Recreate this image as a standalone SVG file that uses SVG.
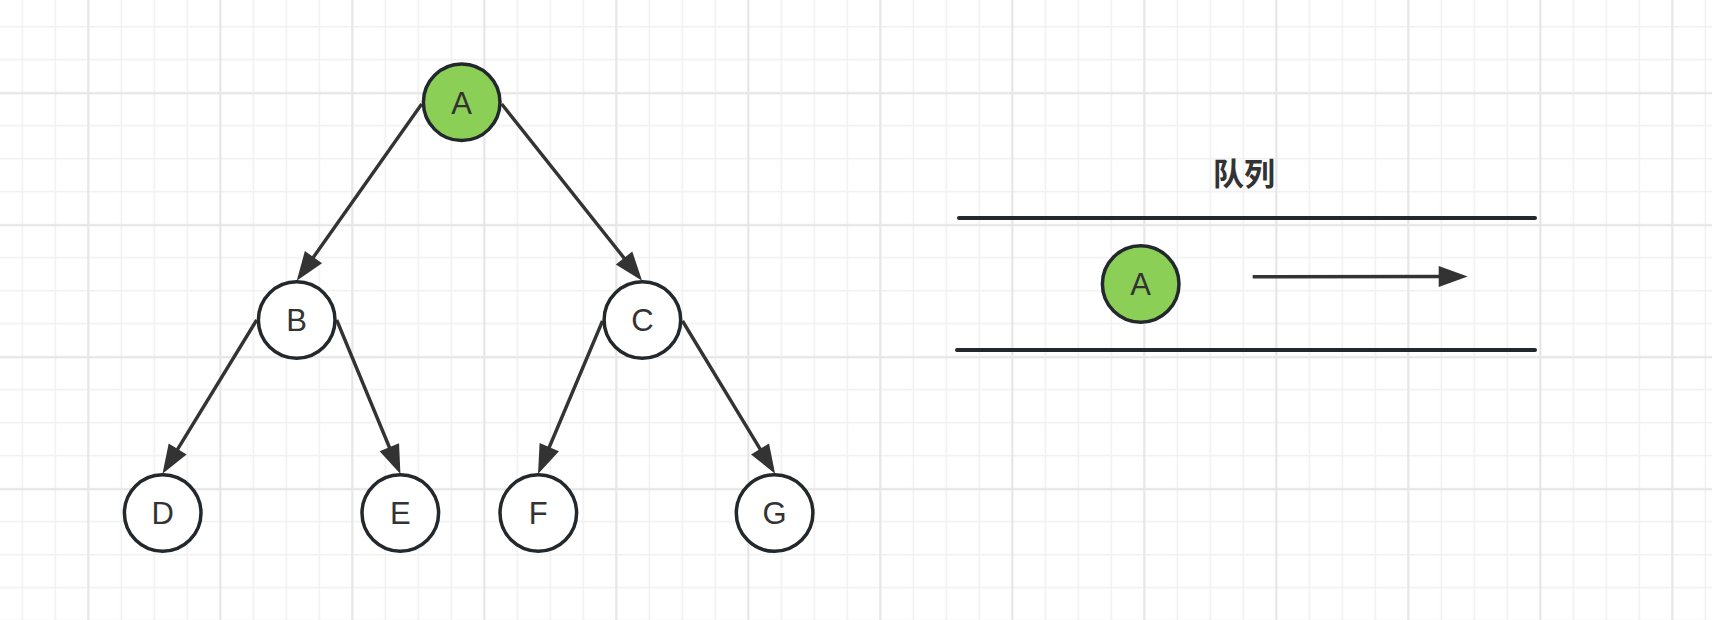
<svg xmlns="http://www.w3.org/2000/svg" width="1712" height="620" viewBox="0 0 1712 620">
  <style>
    .node { fill: #ffffff; stroke: #23282d; stroke-width: 3.5; }
    .green { fill: #8ccf56; }
    .label { font-family: "Liberation Sans", Arial, sans-serif; font-size: 31px; fill: #333333; text-anchor: middle; }
    .edge { stroke: #333333; stroke-width: 3.4; fill: none; marker-end: url(#arrow); }
    .rail { stroke: #23282d; stroke-width: 4; stroke-linecap: round; }
    .title { font-family: "Noto Sans CJK SC", sans-serif; font-size: 31px; font-weight: bold; fill: #333333; text-anchor: middle; }
  </style>
  <defs>
    <pattern id="minor" patternUnits="userSpaceOnUse" x="5.8" y="10.2" width="33" height="33">
      <path d="M16.5,0 V33 M0,16.5 H33" stroke="#f0f0f0" stroke-width="1.6" fill="none"/>
    </pattern>
    <pattern id="major" patternUnits="userSpaceOnUse" x="22.3" y="27.3" width="132" height="132">
      <path d="M66,0 V132 M0,66 H132" stroke="#e6e6e6" stroke-width="2" fill="none"/>
    </pattern>
    <marker id="arrow" viewBox="0 -10 28 20" markerUnits="userSpaceOnUse" markerWidth="28" markerHeight="20" refX="2" refY="0" orient="auto" overflow="visible">
      <path d="M0,-10.5 L29,0 L0,10.5 Z" fill="#333333"/>
    </marker>
  </defs>

  <rect width="1712" height="620" fill="#ffffff"/>
  <rect width="1712" height="620" fill="url(#minor)"/>
  <rect width="1712" height="620" fill="url(#major)"/>

  <g id="connectors">
    <line class="edge" x1="421.7" y1="104" x2="312.3" y2="258.8"/>
    <line class="edge" x1="501.7" y1="104" x2="625.3" y2="259.6"/>
    <line class="edge" x1="256.7" y1="320" x2="176.6" y2="450.8"/>
    <line class="edge" x1="336.7" y1="320" x2="390.1" y2="449"/>
    <line class="edge" x1="602.5" y1="321" x2="548.5" y2="449"/>
    <line class="edge" x1="682.5" y1="321" x2="761.1" y2="450.7"/>
    <line class="edge" x1="1252.7" y1="276.8" x2="1440.7" y2="276.5"/>
  </g>

  <g id="node-A">
    <circle class="node green" cx="461.7" cy="102.3" r="38.3"/>
    <text class="label" x="461.7" y="113.5">A</text>
  </g>
  <g id="node-B">
    <circle class="node" cx="296.7" cy="320" r="38.3"/>
    <text class="label" x="296.7" y="331.2">B</text>
  </g>
  <g id="node-C">
    <circle class="node" cx="642.4" cy="320" r="38.3"/>
    <text class="label" x="642.4" y="331.2">C</text>
  </g>
  <g id="node-D">
    <circle class="node" cx="162.7" cy="513" r="38.3"/>
    <text class="label" x="162.7" y="524.2">D</text>
  </g>
  <g id="node-E">
    <circle class="node" cx="400.3" cy="513" r="38.3"/>
    <text class="label" x="400.3" y="524.2">E</text>
  </g>
  <g id="node-F">
    <circle class="node" cx="538.3" cy="513" r="38.3"/>
    <text class="label" x="538.3" y="524.2">F</text>
  </g>
  <g id="node-G">
    <circle class="node" cx="774.6" cy="513" r="38.3"/>
    <text class="label" x="774.6" y="524.2">G</text>
  </g>

  <g id="queue">
    <text class="title" x="1244" y="185">队列</text>
    <line class="rail" x1="959" y1="218" x2="1535" y2="218"/>
    <line class="rail" x1="957" y1="350" x2="1535" y2="350"/>
  </g>
  <g id="queue-node-A">
    <circle class="node green" cx="1140.7" cy="284" r="38.3"/>
    <text class="label" x="1140.7" y="295.2">A</text>
  </g>
</svg>
